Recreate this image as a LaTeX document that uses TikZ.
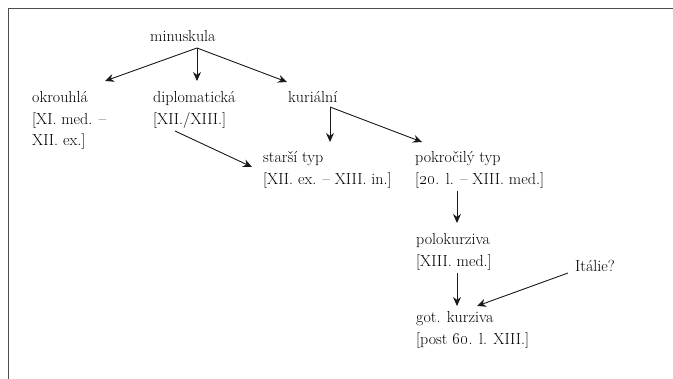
\documentclass[tikz,border=0pt]{standalone}
\usetikzlibrary{arrows.meta}
\begin{document}
\begin{tikzpicture}[x=1pt,y=-1pt,
  lbl/.style={anchor=base west,inner sep=0pt,align=left,font=\fontsize{16}{21.5}\selectfont,text=black},
  arr/.style={draw=black!90,line width=0.9pt,-{Stealth[length=9pt,width=8pt]}},
  frame/.style={draw=black!70,line width=1.3pt}]
\useasboundingbox (0,0) rectangle (673,379);
\draw[frame] (8.5,379) -- (8.5,8.5) -- (673,8.5);
% multi-line nodes are anchored at the baseline of their last line
\node[lbl] (min) at (150,42) {minuskula};
\node[lbl] (okr) at (32,146) {okrouhlá\\{[}XI. med. –\\XII. ex.{]}};
\node[lbl] (dip) at (153,124.5) {diplomatická\\{[}XII./XIII.{]}};
\node[lbl] (kur) at (288,103) {kuriální};
\node[lbl] (sta) at (263,184.5) {starší typ\\{[}XII. ex. – XIII. in.{]}};
\node[lbl] (pok) at (415,184.5) {pokročilý typ\\{[}\oldstylenums{20}. l. – XIII. med.{]}};
\node[lbl] (pol) at (416,266.5) {polokurziva\\{[}XIII. med.{]}};
\node[lbl] (got) at (416,344.5) {got. kurziva\\{[}post \oldstylenums{60}. l. XIII.{]}};
\node[lbl] (ita) at (575,272) {Itálie?};
\coordinate (m0) at (197,48);
\coordinate (okrT) at (105,81);
\coordinate (dipT) at (197,81);
\coordinate (kurT) at (287,82);
\coordinate (k0) at (330,107);
\coordinate (staT) at (330,142);
\coordinate (pokT) at (422,142);
\coordinate (d0) at (175,131);
\coordinate (staL) at (252,167);
\coordinate (p0) at (457,191);
\coordinate (polT) at (457,223);
\coordinate (q0) at (457,273);
\coordinate (gotT) at (457,306);
\coordinate (i0) at (568,273);
\coordinate (gotR) at (477,306);
\draw[arr] (m0) -- (okrT);
\draw[arr] (m0) -- (dipT);
\draw[arr] (m0) -- (kurT);
\draw[arr] (k0) -- (staT);
\draw[arr] (k0) -- (pokT);
\draw[arr] (d0) -- (staL);
\draw[arr] (p0) -- (polT);
\draw[arr] (q0) -- (gotT);
\draw[arr] (i0) -- (gotR);
\end{tikzpicture}
\end{document}
